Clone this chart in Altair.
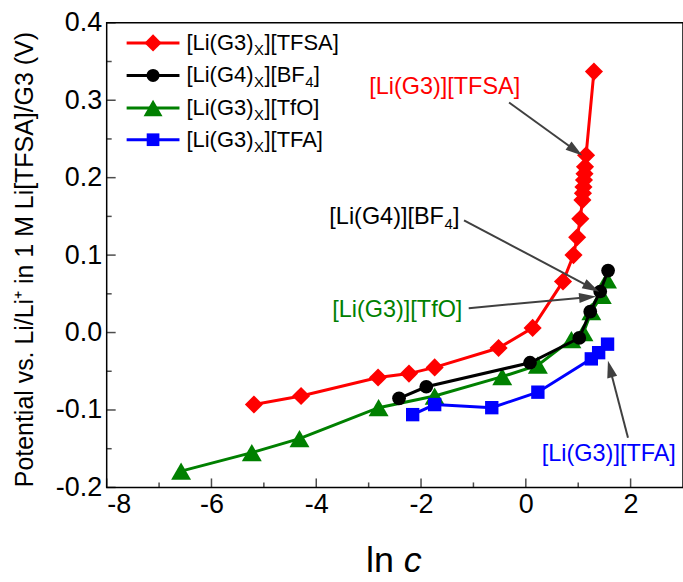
import math
import altair as alt
import pandas as pd

# ---------------- data ----------------
series = ["TFSA", "BF4", "TfO", "TFA"]
colors = ["#ff0000", "#000000", "#008000", "#0000ff"]
shapes = ["diamond", "circle", "triangle-up", "square"]
sizes = [330, 190, 400, 180]

tfsa_x = [-5.19, -4.29, -2.82, -2.23, -1.74, -0.52, 0.13, 0.71, 0.91, 0.98, 1.04,
          1.08, 1.09, 1.10, 1.11, 1.12, 1.13, 1.15, 1.30]
tfsa_y = [-0.093, -0.082, -0.058, -0.053, -0.045, -0.020, 0.006, 0.066, 0.100, 0.123, 0.147,
          0.171, 0.180, 0.188, 0.197, 0.205, 0.214, 0.229, 0.337]

bf4_x = [-2.42, -1.90, 0.08, 1.02, 1.23, 1.42, 1.57]
bf4_y = [-0.085, -0.070, -0.039, -0.007, 0.027, 0.053, 0.080]

tfo_x = [-6.58, -5.23, -4.32, -2.81, -1.74, -0.45, 0.23, 0.87, 1.10, 1.25, 1.45, 1.55]
tfo_y = [-0.179, -0.155, -0.137, -0.097, -0.082, -0.057, -0.042, -0.009, 0.000, 0.027, 0.048, 0.068]

tfa_x = [-2.16, -1.74, -0.65, 0.23, 1.25, 1.39, 1.56]
tfa_y = [-0.106, -0.093, -0.097, -0.077, -0.034, -0.026, -0.015]

xs = {"TFSA": tfsa_x, "BF4": bf4_x, "TfO": tfo_x, "TFA": tfa_x}
ys = {"TFSA": tfsa_y, "BF4": bf4_y, "TfO": tfo_y, "TFA": tfa_y}

# legend
leg_pre = ["[Li(G3)", "[Li(G4)", "[Li(G3)", "[Li(G3)"]
leg_post = ["][TFSA]", "][BF", "][TfO]", "][TFA]"]
leg_y = [0.374, 0.332, 0.290, 0.249]

# annotations
ann_text = ["[Li(G3)][TFSA]", "[Li(G4)][BF", "[Li(G3)][TfO]", "[Li(G3)][TFA]"]
ann_color = ["#ff0000", "#000000", "#008000", "#0000ff"]
ann_x = [-2.99, -3.75, -3.695, 0.305]
ann_y = [0.317, 0.149, 0.029, -0.157]
arr_x1 = [-0.32, -1.18, -1.09, 1.95]
arr_y1 = [0.297, 0.145, 0.0315, -0.136]
arr_x2 = [1.07, 1.39, 1.33, 1.57]
arr_y2 = [0.229, 0.053, 0.0465, -0.037]

# ---------------- layout ----------------
XMIN, XMAX, YMIN, YMAX = -8, 3, -0.2, 0.4
W, H = 578, 466
PXX = W / (XMAX - XMIN)
PXY = H / (YMAX - YMIN)
FONT = "Liberation Sans"
TL = 27  # tick label size

xsc = alt.Scale(domain=[XMIN, XMAX], nice=False, zero=False)
ysc = alt.Scale(domain=[YMIN, YMAX], nice=False, zero=False)

xaxis = alt.Axis(values=[-8, -6, -4, -2, 0, 2], domain=False, ticks=False, grid=False,
                 labelFontSize=TL, labelPadding=4, labelColor="black", title=None,
                 labelExpr="replace(format(datum.value, 'd'), '\u2212', '-')")
yaxis = alt.Axis(values=[-0.2, -0.1, 0.0, 0.1, 0.2, 0.3, 0.4], domain=False, ticks=False,
                 grid=False, labelFontSize=TL, labelPadding=5, labelColor="black",
                 labelExpr="replace(format(datum.value, '.1f'), '\u2212', '-')",
                 title="Potential vs. Li/Li\u207a in 1 M Li[TFSA]/G3 (V)",
                 titleFontSize=25, titleFontWeight="normal", titleColor="black",
                 titleX=-82, titleY=237, titleAngle=270, titleAlign="center",
                 titleBaseline="middle")

X = lambda f: alt.X(f, type="quantitative", scale=xsc, axis=xaxis)
Y = lambda f: alt.Y(f, type="quantitative", scale=ysc, axis=yaxis)

layers = []

# axis ticks (inward)
xt_major = pd.DataFrame({"v": [-8, -6, -4, -2, 0, 2]})
xt_minor = pd.DataFrame({"v": [-7, -5, -3, -1, 1]})
yt_major = pd.DataFrame({"v": [-0.2, -0.1, 0.0, 0.1, 0.2, 0.3, 0.4]})
yt_minor = pd.DataFrame({"v": [-0.15, -0.05, 0.05, 0.15, 0.25, 0.35]})
for df_t, ln in [(xt_major, 9), (xt_minor, 5)]:
    layers.append(alt.Chart(df_t).mark_tick(orient="vertical", size=ln, thickness=1.5,
                                            color="black", yOffset=-ln / 2)
                  .encode(x=X("v"), y=alt.Y(datum=YMIN, type="quantitative", scale=ysc, axis=yaxis)))
for df_t, ln in [(yt_major, 9), (yt_minor, 5)]:
    layers.append(alt.Chart(df_t).mark_tick(orient="horizontal", size=ln, thickness=1.5,
                                            color="black", xOffset=ln / 2)
                  .encode(y=Y("v"), x=alt.X(datum=XMIN, type="quantitative", scale=xsc, axis=xaxis)))

# data series (drawn like Origin: line + symbols per plot)
draw_order = ["TFSA", "TfO", "BF4", "TFA"]
for s in draw_order:
    k = series.index(s)
    df = pd.DataFrame({"x": xs[s], "y": ys[s], "i": range(len(xs[s]))})
    base = alt.Chart(df)
    layers.append(base.mark_line(color=colors[k], strokeWidth=3)
                  .encode(x=X("x"), y=Y("y"), order="i:Q"))
    layers.append(base.mark_point(shape=shapes[k], size=sizes[k], filled=True, opacity=1,
                                  color=colors[k])
                  .encode(x=X("x"), y=Y("y")))

# annotation arrows
HEAD = "M0,-1L0.6,1L-0.6,1Z"
arr_rows = []
for k in range(4):
    dxp = (arr_x2[k] - arr_x1[k]) * PXX
    dyp = -(arr_y2[k] - arr_y1[k]) * PXY
    L = math.hypot(dxp, dyp)
    ux, uy = dxp / L, dyp / L
    ang = math.degrees(math.atan2(ux, -uy)) % 360
    hx = arr_x2[k] - 8 * ux / PXX
    hy = arr_y2[k] + 8 * uy / PXY
    arr_rows.append({"x1": arr_x1[k], "y1": arr_y1[k], "hx": hx, "hy": hy, "ang": ang})
arr_df = pd.DataFrame(arr_rows)
layers.append(alt.Chart(arr_df).mark_rule(color="#404040", strokeWidth=2)
              .encode(x=X("x1"), y=Y("y1"), x2="hx:Q", y2="hy:Q"))
layers.append(alt.Chart(arr_df).mark_point(shape=HEAD, size=289, filled=True, opacity=1,
                                           color="#404040")
              .encode(x=X("hx"), y=Y("hy"), angle=alt.Angle("ang:Q", scale=None)))

# annotation texts
AFS = 23.5
ann_df = pd.DataFrame({"t": ann_text, "c": ann_color, "x": ann_x, "y": ann_y})
layers.append(alt.Chart(ann_df).mark_text(align="left", baseline="middle", fontSize=AFS, font=FONT)
              .encode(x=X("x"), y=Y("y"), text="t:N", color=alt.Color("c:N", scale=None)))
bf = ann_df.iloc[[1]]
w_bf = 4.89 * AFS
layers.append(alt.Chart(bf).mark_text(align="left", baseline="middle", fontSize=15, font=FONT,
                                      dx=w_bf + 0.5, dy=7, color="black")
              .encode(x=X("x"), y=Y("y"), text=alt.value("4")))
layers.append(alt.Chart(bf).mark_text(align="left", baseline="middle", fontSize=AFS, font=FONT,
                                      dx=w_bf + 0.5 + 8.6, color="black")
              .encode(x=X("x"), y=Y("y"), text=alt.value("]")))

# legend (manual, inside the frame)
leg_df = pd.DataFrame({"s": series, "pre": leg_pre, "post": leg_post, "ly": leg_y,
                       "c": colors})
lb = alt.Chart(leg_df)
layers.append(lb.mark_rule(strokeWidth=3).encode(
    x=alt.value(20), x2=alt.value(73), y=Y("ly"), color=alt.Color("c:N", scale=None)))
for k, s in enumerate(series):
    layers.append(alt.Chart(leg_df.iloc[[k]]).mark_point(shape=shapes[k], size=sizes[k] * 0.9,
                                                         filled=True, opacity=1, color=colors[k])
                  .encode(x=alt.value(46.5), y=Y("ly")))
LFS = 22
w1 = 3.056 * LFS
wX = 0.667 * 15
layers.append(lb.mark_text(align="left", baseline="middle", fontSize=LFS, font=FONT, color="black")
              .encode(x=alt.value(80), y=Y("ly"), text="pre:N"))
layers.append(lb.mark_text(align="left", baseline="middle", fontSize=15, font=FONT, color="black",
                           dx=w1 + 0.5, dy=7)
              .encode(x=alt.value(80), y=Y("ly"), text=alt.value("X")))
layers.append(lb.mark_text(align="left", baseline="middle", fontSize=LFS, font=FONT, color="black",
                           dx=w1 + wX + 1)
              .encode(x=alt.value(80), y=Y("ly"), text="post:N"))
lbf = alt.Chart(leg_df.iloc[[1]])
w3 = 1.834 * LFS
layers.append(lbf.mark_text(align="left", baseline="middle", fontSize=15, font=FONT, color="black",
                            dx=w1 + wX + 1 + w3 + 0.5, dy=7)
              .encode(x=alt.value(80), y=Y("ly"), text=alt.value("4")))
layers.append(lbf.mark_text(align="left", baseline="middle", fontSize=LFS, font=FONT, color="black",
                            dx=w1 + wX + 1 + w3 + 0.5 + 8.6)
              .encode(x=alt.value(80), y=Y("ly"), text=alt.value("]")))

# x-axis title "ln c" with italic c
XT = 36
tdf = pd.DataFrame({"a": ["ln"]})
layers.append(alt.Chart(tdf).mark_text(align="left", baseline="middle", fontSize=XT, font=FONT,
                                       color="black")
              .encode(x=alt.value(260), y=alt.value(540), text=alt.value("ln")))
layers.append(alt.Chart(tdf).mark_text(align="left", baseline="middle", fontSize=XT, font=FONT,
                                       fontStyle="italic", color="black")
              .encode(x=alt.value(260 + 1.056 * XT), y=alt.value(540), text=alt.value("c")))

chart = alt.layer(*layers).properties(
    width=W, height=H,
    padding={"left": 107, "top": 22, "right": 0, "bottom": 94},
    autosize=alt.AutoSizeParams(type="none"),
).configure(font=FONT).configure_view(stroke="black", strokeWidth=1.5)

chart.save("out.html", embed_options={"renderer": "svg", "actions": False})
